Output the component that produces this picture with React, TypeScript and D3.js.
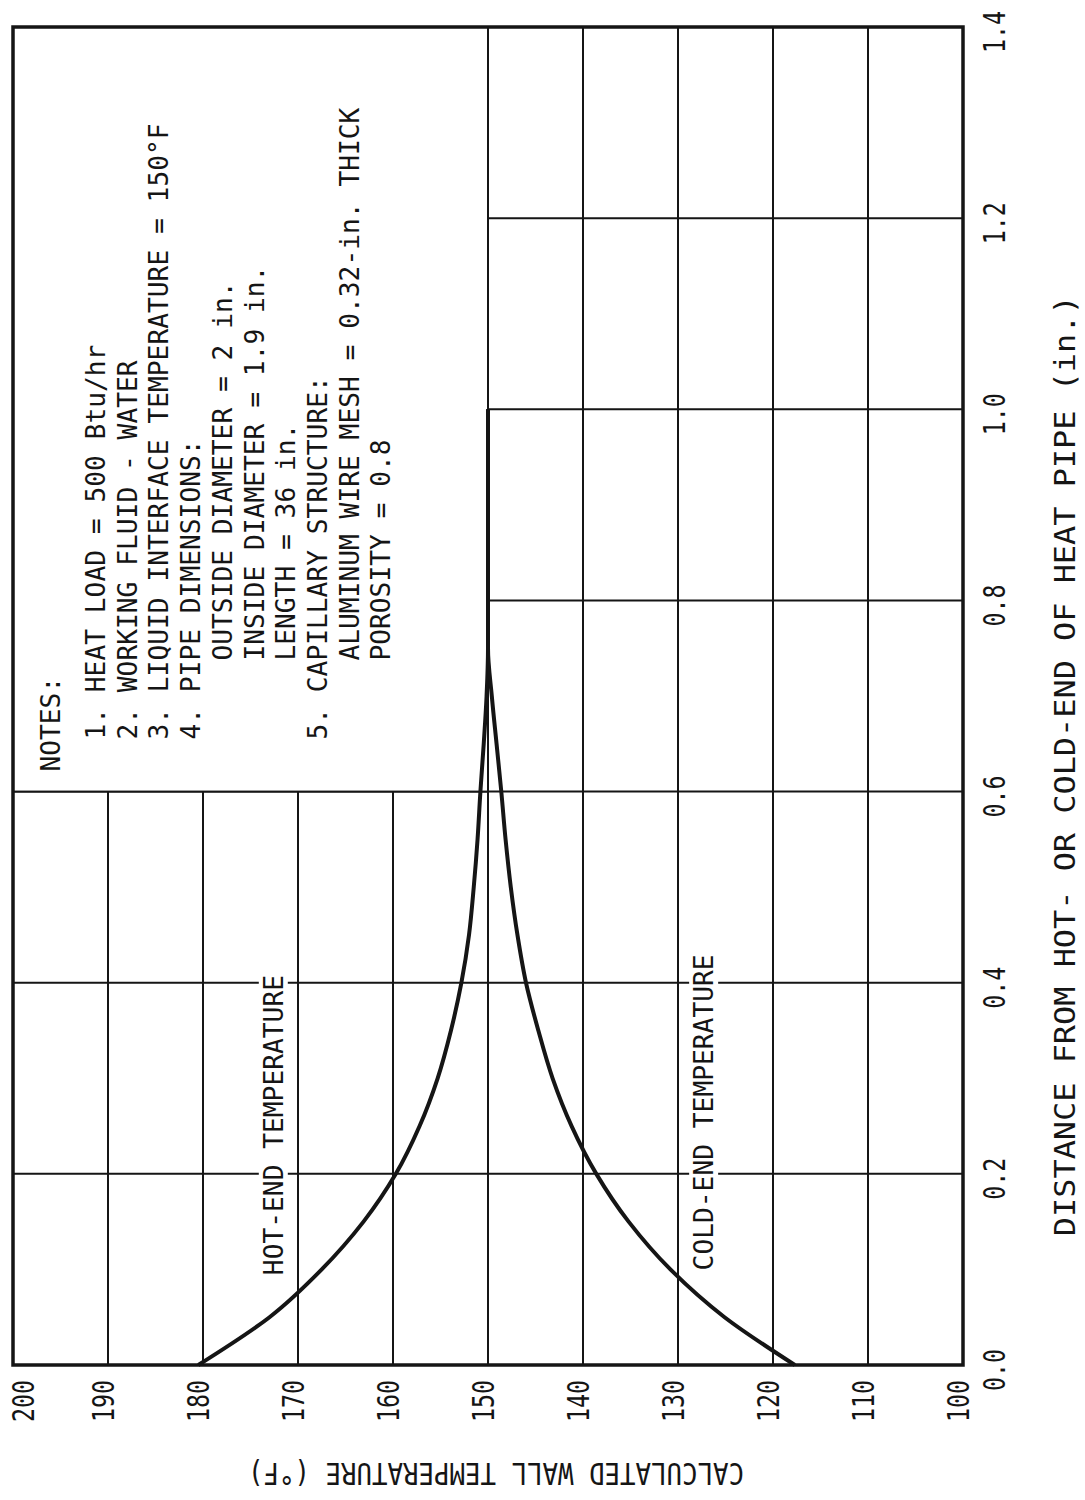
import React from 'react';
import * as d3 from 'd3';

// axis ticks
const distanceTicks = [0, 0.2, 0.4, 0.6, 0.8, 1.0, 1.2, 1.4];
const temperatureTicks = [100, 110, 120, 130, 140, 150, 160, 170, 180, 190, 200];

// wall temperature (distance in inches, temperature in deg F)
const hotDistance = [0, 0.05, 0.1, 0.15, 0.2, 0.25, 0.3, 0.35, 0.4, 0.45, 0.5, 0.55, 0.6, 0.65, 0.7, 0.75, 0.8, 1.0];
const hotTemperature = [180.5, 173.0, 167.5, 163.1, 159.7, 157.2, 155.3, 153.9, 152.8, 152.0, 151.5, 151.1, 150.8, 150.45, 150.15, 150.0, 150.0, 150.0];
const coldDistance = [0, 0.05, 0.1, 0.15, 0.2, 0.25, 0.3, 0.35, 0.4, 0.45, 0.5, 0.55, 0.6, 0.65, 0.7, 0.75, 0.8, 1.0];
const coldTemperature = [117.7, 125.1, 130.8, 135.2, 138.6, 141.2, 143.2, 144.7, 146.0, 146.9, 147.6, 148.15, 148.6, 149.1, 149.6, 150.0, 150.0, 150.0];

const notesTitle = 'NOTES:';
const notesLines = [
  '1. HEAT LOAD = 500 Btu/hr',
  '2. WORKING FLUID - WATER',
  '3. LIQUID INTERFACE TEMPERATURE = 150°F',
  '4. PIPE DIMENSIONS:',
  '     OUTSIDE DIAMETER = 2 in.',
  '     INSIDE DIAMETER = 1.9 in.',
  '     LENGTH = 36 in.',
  '5. CAPILLARY STRUCTURE:',
  '     ALUMINUM WIRE MESH = 0.32-in. THICK',
  '     POROSITY = 0.8',
];

const xTitle = 'DISTANCE FROM HOT- OR COLD-END OF HEAT PIPE (in.)';
const yTitle = 'CALCULATED WALL TEMPERATURE (°F)';
const hotLabel = 'HOT-END TEMPERATURE';
const coldLabel = 'COLD-END TEMPERATURE';

const FONT = '"DejaVu Sans Mono", "Liberation Mono", monospace';
const INK = '#151515';

// the figure is printed a quarter turn: distance runs up the page, temperature runs right-to-left
const LEFT = 13;
const BOTTOM = 1365;
const W = 1338; // distance extent
const H = 950; // temperature extent

function Label({ x, y, text, adv, size, anchor = 'start', transform }: any) {
  return (
    <text
      x={x}
      y={y}
      transform={transform}
      textAnchor={anchor}
      fontFamily={FONT}
      fontSize={size}
      fill={INK}
      textLength={text.length * adv}
      lengthAdjust="spacingAndGlyphs"
    >
      {text}
    </text>
  );
}

export default function App() {
  const x = d3.scaleLinear().domain([0, 1.4]).range([0, W]);
  const y = d3.scaleLinear().domain([100, 200]).range([H, 0]);

  const line = d3
    .line<[number, number]>()
    .x((d) => x(d[0]))
    .y((d) => y(d[1]))
    .curve(d3.curveMonotoneX);

  const hotPath = line(hotDistance.map((d, i) => [d, hotTemperature[i]]));
  const coldPath = line(coldDistance.map((d, i) => [d, coldTemperature[i]]));

  // notes panel covers the upper hot side of the grid
  const boxX = x(0.6);
  const boxW = x(1.4) - x(0.6);
  const boxH = y(150) - y(200);

  const noteAdv = 15.8;
  const noteStart = boxX + 52;

  const labelAdv = 15.8;
  const hotAt = { d: 0.094, t: 171.6 };
  const coldAt = { d: 0.099, t: 126.3 };

  return (
    <svg
      width={1085}
      height={1500}
      style={{ position: 'absolute', left: 0, top: 0, background: '#fff' }}
    >
      <rect width={1085} height={1500} fill="#fff" />
      <g transform={`translate(${LEFT},${BOTTOM}) rotate(-90)`}>
        {/* grid */}
        {distanceTicks.map((d) => (
          <line key={'gd' + d} x1={x(d)} x2={x(d)} y1={0} y2={H} stroke={INK} strokeWidth={2} />
        ))}
        {temperatureTicks.map((t) => (
          <line key={'gt' + t} x1={0} x2={W} y1={y(t)} y2={y(t)} stroke={INK} strokeWidth={2} />
        ))}

        {/* notes panel */}
        <rect x={boxX} y={0} width={boxW} height={boxH} fill="#fff" stroke={INK} strokeWidth={2} />
        <Label x={boxX + 20} y={47} text={notesTitle} adv={noteAdv} size={26} />
        {notesLines.map((ln, i) => {
          const body = ln.trimStart();
          const indent = ln.length - body.length;
          return (
            <Label
              key={'n' + i}
              x={noteStart + indent * noteAdv}
              y={92 + i * 31.7}
              text={body}
              adv={noteAdv}
              size={26}
            />
          );
        })}

        {/* curve labels */}
        {[
          { at: hotAt, text: hotLabel },
          { at: coldAt, text: coldLabel },
        ].map(({ at, text }) => (
          <g key={text}>
            <rect
              x={x(at.d) - 4}
              y={y(at.t) - 24}
              width={text.length * labelAdv + 8}
              height={29}
              fill="#fff"
            />
            <Label x={x(at.d)} y={y(at.t)} text={text} adv={labelAdv} size={26} />
          </g>
        ))}

        {/* curves */}
        <path d={hotPath || ''} fill="none" stroke={INK} strokeWidth={4} />
        <path d={coldPath || ''} fill="none" stroke={INK} strokeWidth={4} />

        {/* frame */}
        <rect x={0} y={0} width={W} height={H} fill="none" stroke={INK} strokeWidth={3.5} />

        {/* distance tick labels */}
        {distanceTicks.map((d) => (
          <Label key={'ld' + d} x={x(d) - 5} y={H + 42} text={d.toFixed(1)} adv={14} size={30} anchor="middle" />
        ))}
        {/* temperature tick labels */}
        {temperatureTicks.map((t) => (
          <Label
            key={'lt' + t}
            x={-15}
            y={Math.max(y(t) + 6, 21)}
            text={String(t)}
            adv={14}
            size={30}
            anchor="end"
          />
        ))}

        {/* axis titles */}
        <Label x={x(0.627)} y={H + 112} text={xTitle} adv={19.2} size={28} anchor="middle" />
        <Label
          x={0}
          y={0}
          transform={`translate(-98,${H / 2 + 8}) rotate(-90)`}
          text={yTitle}
          adv={15.5}
          size={31}
          anchor="middle"
        />
      </g>
    </svg>
  );
}
